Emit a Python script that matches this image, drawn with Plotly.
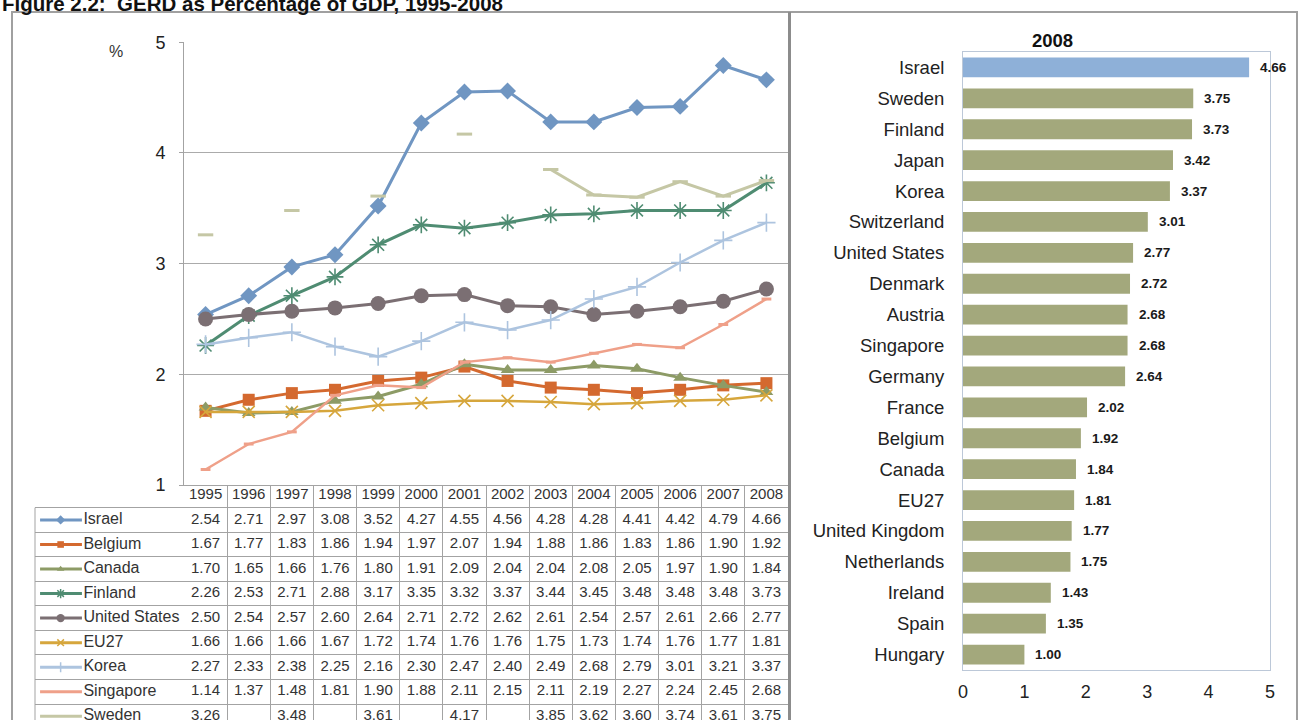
import plotly.graph_objects as go

W, H = 1299, 720
FONT = "Liberation Sans, Arial, sans-serif"

# ---- GERD as % of GDP, 1995-2008 ----
years = list(range(1995, 2009))

israel = [2.54, 2.71, 2.97, 3.08, 3.52, 4.27, 4.55, 4.56, 4.28, 4.28, 4.41, 4.42, 4.79, 4.66]
belgium = [1.67, 1.77, 1.83, 1.86, 1.94, 1.97, 2.07, 1.94, 1.88, 1.86, 1.83, 1.86, 1.90, 1.92]
canada = [1.70, 1.65, 1.66, 1.76, 1.80, 1.91, 2.09, 2.04, 2.04, 2.08, 2.05, 1.97, 1.90, 1.84]
finland = [2.26, 2.53, 2.71, 2.88, 3.17, 3.35, 3.32, 3.37, 3.44, 3.45, 3.48, 3.48, 3.48, 3.73]
united_states = [2.50, 2.54, 2.57, 2.60, 2.64, 2.71, 2.72, 2.62, 2.61, 2.54, 2.57, 2.61, 2.66, 2.77]
eu27 = [1.66, 1.66, 1.66, 1.67, 1.72, 1.74, 1.76, 1.76, 1.75, 1.73, 1.74, 1.76, 1.77, 1.81]
korea = [2.27, 2.33, 2.38, 2.25, 2.16, 2.30, 2.47, 2.40, 2.49, 2.68, 2.79, 3.01, 3.21, 3.37]
singapore = [1.14, 1.37, 1.48, 1.81, 1.90, 1.88, 2.11, 2.15, 2.11, 2.19, 2.27, 2.24, 2.45, 2.68]
sweden = [3.26, None, 3.48, None, 3.61, None, 4.17, None, 3.85, 3.62, 3.60, 3.74, 3.61, 3.75]

series_names = ["Israel", "Belgium", "Canada", "Finland", "United States",
                "EU27", "Korea", "Singapore", "Sweden"]
series_values = [israel, belgium, canada, finland, united_states,
                 eu27, korea, singapore, sweden]

# ---- 2008 ranking ----
countries_2008 = ["Israel", "Sweden", "Finland", "Japan", "Korea", "Switzerland",
                  "United States", "Denmark", "Austria", "Singapore", "Germany",
                  "France", "Belgium", "Canada", "EU27", "United Kingdom",
                  "Netherlands", "Ireland", "Spain", "Hungary"]
gerd_2008 = [4.66, 3.75, 3.73, 3.42, 3.37, 3.01, 2.77, 2.72, 2.68, 2.68, 2.64,
             2.02, 1.92, 1.84, 1.81, 1.77, 1.75, 1.43, 1.35, 1.00]

# line / marker styles per series
styles = {
    "Israel":        dict(color="#7096C2", symbol="diamond",         size=13, lw=3.0, mlw=0),
    "Belgium":       dict(color="#D4692F", symbol="square",          size=12, lw=3.0, mlw=0),
    "Canada":        dict(color="#8D9B66", symbol="triangle-up",     size=12, lw=3.0, mlw=0),
    "Finland":       dict(color="#4F8C72", symbol="asterisk-open",   size=14, lw=3.0, mlw=1.6),
    "United States": dict(color="#7B6F73", symbol="circle",          size=15, lw=3.0, mlw=0),
    "EU27":          dict(color="#D6A63C", symbol="x-thin-open",     size=12, lw=2.5, mlw=1.6),
    "Korea":         dict(color="#ADC4DF", symbol="cross-thin-open", size=13, lw=2.5, mlw=1.6),
    "Singapore":     dict(color="#EFA089", symbol="line-ew-open",    size=7,  lw=2.5, mlw=3),
    "Sweden":        dict(color="#C5C7A5", symbol="line-ew-open",    size=11, lw=3.0, mlw=3),
}


def px_x(p):
    return p / W


def px_y(p):
    return 1 - p / H


fig = go.Figure()

# time series lines
for name, vals in zip(series_names, series_values):
    s = styles[name]
    fig.add_trace(go.Scatter(
        x=years, y=vals, mode="lines+markers", name=name,
        line=dict(color=s["color"], width=s["lw"]),
        marker=dict(symbol=s["symbol"], size=s["size"], color=s["color"],
                    line=dict(color=s["color"], width=s["mlw"])),
        connectgaps=False, xaxis="x", yaxis="y", showlegend=False,
        cliponaxis=False,
    ))

# data table under the chart: header row of years, one row per series
fig.add_trace(go.Scatter(
    x=years, y=[0] * len(years), mode="text", text=[str(y) for y in years],
    textfont=dict(family=FONT, size=15, color="#333333"),
    xaxis="x2", yaxis="y2", showlegend=False, hoverinfo="skip",
))
for i, vals in enumerate(series_values, start=1):
    fig.add_trace(go.Scatter(
        x=years, y=[i] * len(years), mode="text",
        text=["" if v is None else f"{v:.2f}" for v in vals],
        textfont=dict(family=FONT, size=15, color="#333333"),
        xaxis="x2", yaxis="y2", showlegend=False, hoverinfo="skip",
    ))

# legend keys inside the table's label column
for i, name in enumerate(series_names, start=1):
    s = styles[name]
    fig.add_trace(go.Scatter(
        x=[0.034, 0.315], y=[i, i], mode="lines",
        line=dict(color=s["color"], width=3),
        xaxis="x3", yaxis="y2", showlegend=False, hoverinfo="skip",
    ))
    fig.add_trace(go.Scatter(
        x=[0.172], y=[i], mode="markers",
        marker=dict(symbol=s["symbol"], size=max(5, s["size"] * 0.55), color=s["color"],
                    line=dict(color=s["color"], width=min(s["mlw"], 1.5))),
        xaxis="x3", yaxis="y2", showlegend=False, hoverinfo="skip",
    ))
fig.add_trace(go.Scatter(
    x=[0.325] * len(series_names), y=list(range(1, len(series_names) + 1)),
    mode="text", text=series_names, textposition="middle right",
    textfont=dict(family=FONT, size=16, color="#333333"),
    xaxis="x3", yaxis="y2", showlegend=False, hoverinfo="skip", cliponaxis=False,
))

# 2008 bar ranking
bar_colors = ["#8EB0D8" if c == "Israel" else "#A3A87C" for c in countries_2008]
fig.add_trace(go.Bar(
    x=gerd_2008, y=countries_2008, orientation="h",
    marker=dict(color=bar_colors, line=dict(width=0)),
    width=0.64, xaxis="x4", yaxis="y4", showlegend=False,
))

annotations = []
for c, v in zip(countries_2008, gerd_2008):
    annotations.append(dict(
        x=v, y=c, xref="x4", yref="y4", text=f"<b>{v:.2f}</b>",
        showarrow=False, xanchor="left", xshift=9,
        font=dict(family=FONT, size=13.5, color="#1A1A1A"),
    ))

annotations += [
    dict(x=0, y=px_y(3.2), xref="paper", yref="paper", xanchor="left", yanchor="middle",
         text="<b>Figure 2.2:  GERD as Percentage of GDP, 1995-2008</b>", showarrow=False,
         font=dict(family=FONT, size=20.5, color="#111111")),
    dict(x=px_x(116), y=px_y(52), xref="paper", yref="paper", xanchor="center",
         yanchor="middle", text="%", showarrow=False,
         font=dict(family=FONT, size=16, color="#333333")),
    dict(x=px_x(1052), y=px_y(40), xref="paper", yref="paper", xanchor="center",
         yanchor="middle", text="<b>2008</b>", showarrow=False,
         font=dict(family=FONT, size=18.5, color="#111111")),
]

grid = "#A3A3A3"
xr = [1994.5, 2008.5]

fig.update_layout(
    width=W, height=H,
    margin=dict(l=0, r=0, t=0, b=0, autoexpand=False),
    paper_bgcolor="white", plot_bgcolor="rgba(0,0,0,0)",
    font=dict(family=FONT, color="#222222"),
    bargap=0.35,
    annotations=annotations,
    xaxis=dict(domain=[px_x(184), px_x(788)], range=xr, anchor="y",
               showticklabels=False, showgrid=False, zeroline=False,
               showline=True, linecolor=grid, linewidth=1, ticks=""),
    yaxis=dict(domain=[px_y(485), px_y(42)], range=[1, 5.002], anchor="x",
               tickvals=[1, 2, 3, 4, 5], showgrid=True, gridcolor="#ABABAB", gridwidth=1,
               zeroline=False, showline=True, linecolor=grid, linewidth=1,
               ticks="outside", ticklen=4, tickcolor=grid,
               tickfont=dict(family=FONT, size=18, color="#222222"),
               ticklabelstandoff=10),
    xaxis2=dict(domain=[px_x(184), px_x(788)], range=xr, anchor="y2",
                tickvals=[y - 0.5 for y in years] + [years[-1] + 0.5],
                showticklabels=False, showgrid=True, gridcolor=grid, gridwidth=1,
                zeroline=False, showline=False, ticks=""),
    yaxis2=dict(domain=[0, px_y(485)], range=[9.152, -0.425], anchor="x2",
                tickvals=[i + 0.5 for i in range(9)], showticklabels=False,
                showgrid=True, gridcolor=grid, gridwidth=1, zeroline=False,
                showline=False, ticks=""),
    xaxis3=dict(domain=[px_x(35), px_x(184)], range=[0, 1], anchor="y2",
                showticklabels=False, showgrid=False, zeroline=False,
                showline=False, ticks=""),
    xaxis4=dict(domain=[px_x(963), px_x(1270)], range=[0, 5], anchor="y4",
                tickvals=[0, 1, 2, 3, 4, 5], showgrid=False, zeroline=False,
                showline=True, mirror=True, linecolor="#BCC8D8", linewidth=1,
                ticks="", tickfont=dict(family=FONT, size=18, color="#222222"),
                ticklabelstandoff=5),
    yaxis4=dict(domain=[px_y(670), px_y(52)], anchor="x4", type="category",
                categoryorder="array", categoryarray=countries_2008,
                range=[len(countries_2008) - 0.5, -0.5],
                showgrid=False, zeroline=False, showline=True, mirror=True,
                linecolor="#BCC8D8", linewidth=1, ticks="",
                tickfont=dict(family=FONT, size=18.5, color="#222222"),
                ticklabelstandoff=14),
    shapes=[
        # outer frame of the figure panel
        dict(type="rect", xref="paper", yref="paper",
             x0=px_x(12), x1=px_x(1297), y0=px_y(730), y1=px_y(12),
             line=dict(color="#A0A0A0", width=2), layer="below"),
        # divider between the two panels
        dict(type="line", xref="paper", yref="paper",
             x0=px_x(789.5), x1=px_x(789.5), y0=px_y(730), y1=px_y(12),
             line=dict(color="#8C8C8C", width=3)),
        # left edge of the label column in the table
        dict(type="line", xref="x3 domain", yref="y2",
             x0=0, x1=0, y0=0.5, y1=9.6,
             line=dict(color=grid, width=1)),
    ],
)

fig.write_html("out.html")
